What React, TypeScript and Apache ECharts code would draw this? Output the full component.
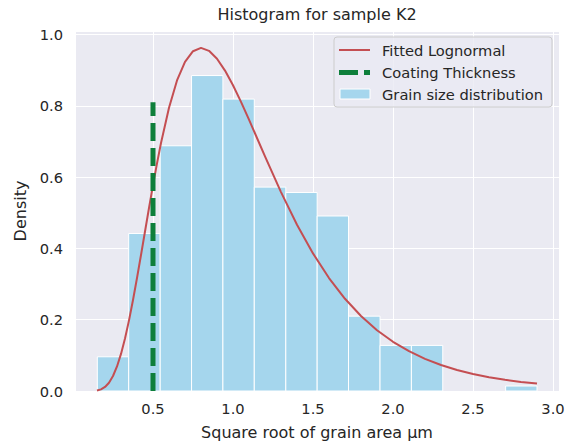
import React, { useEffect, useRef } from "react";
import * as echarts from "echarts";

// Histogram bin edges (µm) and density heights
const binEdges = [0.152, 0.348, 0.545, 0.741, 0.937, 1.133, 1.33, 1.526, 1.722, 1.919, 2.115, 2.311, 2.508, 2.704, 2.9];
const densities = [0.096, 0.442, 0.688, 0.885, 0.819, 0.572, 0.557, 0.491, 0.21, 0.128, 0.128, 0, 0, 0.014];

// Fitted lognormal curve
const curveX = [0.15, 0.175, 0.2, 0.225, 0.25, 0.275, 0.3, 0.325, 0.35, 0.375, 0.4, 0.425, 0.45, 0.475, 0.5, 0.525, 0.55, 0.6, 0.65, 0.7, 0.75, 0.8, 0.85, 0.9, 0.95, 1.0, 1.05, 1.1, 1.15, 1.2, 1.3, 1.4, 1.5, 1.6, 1.7, 1.8, 1.9, 2.0, 2.1, 2.2, 2.3, 2.4, 2.5, 2.6, 2.7, 2.8, 2.9];
const curveY = [0.0015, 0.0046, 0.0113, 0.0233, 0.0421, 0.0689, 0.1041, 0.1474, 0.1982, 0.2552, 0.3169, 0.3816, 0.4476, 0.5134, 0.5775, 0.6386, 0.6957, 0.7949, 0.8712, 0.9236, 0.9533, 0.9625, 0.9544, 0.9321, 0.899, 0.8578, 0.8113, 0.7613, 0.7098, 0.6581, 0.5581, 0.4666, 0.386, 0.3169, 0.2587, 0.2104, 0.1706, 0.1381, 0.1117, 0.0903, 0.073, 0.0591, 0.0478, 0.0388, 0.0315, 0.0255, 0.0208];

// Coating thickness vertical line
const coatingX = [0.5, 0.5];
const coatingY = [0, 0.81];

const legendLabels = ["Fitted Lognormal", "Coating Thickness", "Grain size distribution"];
const titleText = "Histogram for sample K2";
const xName = "Square root of grain area µm";
const yName = "Density";

const FONT = "DejaVu Sans";
const TXT = "#262626";
const BAR = "#a5d6ed";
const RED = "#c44e52";
const GREEN = "#0e7f3b";

export default function App() {
  const ref = useRef<HTMLDivElement>(null);
  useEffect(() => {
    if (!ref.current) return;
    const chart = echarts.init(ref.current, null, { renderer: "svg" });
    const bins = densities.map((d, i) => [binEdges[i], binEdges[i + 1], d]);
    const curve = curveX.map((x, i) => [x, curveY[i]]);
    const coating = coatingX.map((x, i) => [x, coatingY[i]]);
    const lx = 334, ly = 37;
    chart.setOption({
      animation: false,
      backgroundColor: "#ffffff",
      textStyle: { fontFamily: FONT },
      title: {
        text: titleText,
        left: 317,
        top: 6,
        padding: 0,
        textAlign: "center",
        textStyle: { fontFamily: FONT, fontSize: 16, fontWeight: "normal", color: TXT },
      },
      grid: {
        left: 75,
        right: 17,
        top: 31,
        bottom: 57,
        show: true,
        backgroundColor: "#eaeaf2",
        borderWidth: 0,
      },
      xAxis: {
        type: "value",
        min: 0.0125,
        max: 3.0375,
        splitNumber: 6,
        name: xName,
        nameLocation: "middle",
        nameGap: 33,
        nameTextStyle: { fontFamily: FONT, fontSize: 16, color: TXT },
        axisLine: { show: false },
        axisTick: { show: false },
        axisLabel: {
          showMinLabel: false,
          showMaxLabel: false,
          margin: 10,
          fontFamily: FONT,
          fontSize: 14.67,
          color: TXT,
          formatter: (v: number) => v.toFixed(1),
        },
        splitLine: { show: true, lineStyle: { color: "#ffffff", width: 1 } },
      },
      yAxis: {
        type: "value",
        min: 0,
        max: 1.01,
        interval: 0.2,
        name: yName,
        nameLocation: "middle",
        nameGap: 40,
        nameTextStyle: { fontFamily: FONT, fontSize: 16, color: TXT },
        axisLine: { show: false },
        axisTick: { show: false },
        axisLabel: {
          showMaxLabel: false,
          margin: 12,
          fontFamily: FONT,
          fontSize: 14.67,
          color: TXT,
          formatter: (v: number) => v.toFixed(1),
        },
        splitLine: { show: true, lineStyle: { color: "#ffffff", width: 1 } },
      },
      series: [
        {
          type: "custom",
          name: legendLabels[2],
          z: 1,
          data: bins,
          renderItem: (params: any, api: any) => {
            const x0 = api.value(0);
            const x1 = api.value(1);
            const h = api.value(2);
            if (!(h > 0)) return null;
            const p0 = api.coord([x0, h]);
            const p1 = api.coord([x1, 0]);
            return {
              type: "rect",
              shape: { x: p0[0], y: p0[1], width: p1[0] - p0[0], height: p1[1] - p0[1] },
              style: { fill: BAR, stroke: "#ffffff", lineWidth: 1 },
            };
          },
        },
        {
          type: "line",
          name: legendLabels[0],
          z: 3,
          data: curve,
          showSymbol: false,
          smooth: false,
          lineStyle: { color: RED, width: 2, join: "round" },
        },
        {
          type: "line",
          name: legendLabels[1],
          z: 4,
          data: coating,
          showSymbol: false,
          lineStyle: { color: GREEN, width: 5, type: [18, 7], cap: "butt" },
        },
      ],
      graphic: [
        {
          type: "rect",
          z: 100,
          shape: { x: lx, y: ly, width: 218, height: 70, r: 3 },
          style: { fill: "rgba(234,234,242,0.8)", stroke: "#cccccc", lineWidth: 1 },
        },
        {
          type: "line",
          z: 101,
          shape: { x1: lx + 5, y1: ly + 13, x2: lx + 36, y2: ly + 13 },
          style: { stroke: RED, lineWidth: 2 },
        },
        {
          type: "rect",
          z: 101,
          shape: { x: lx + 5, y: ly + 33, width: 19, height: 5 },
          style: { fill: GREEN },
        },
        {
          type: "rect",
          z: 101,
          shape: { x: lx + 30, y: ly + 33, width: 6, height: 5 },
          style: { fill: GREEN },
        },
        {
          type: "rect",
          z: 101,
          shape: { x: lx + 6, y: ly + 52, width: 30, height: 10 },
          style: { fill: BAR, stroke: "#ffffff", lineWidth: 1 },
        },
        ...legendLabels.map((t, i) => ({
          type: "text",
          z: 102,
          x: lx + 48,
          y: ly + 13 + i * 22,
          style: {
            text: t,
            fill: TXT,
            font: `14.67px "${FONT}"`,
            textVerticalAlign: "middle",
            verticalAlign: "middle",
          },
        })),
      ],
    });
    return () => chart.dispose();
  }, []);
  return (
    <div
      ref={ref}
      style={{ position: "absolute", left: 0, top: 0, width: 576, height: 448 }}
    />
  );
}
